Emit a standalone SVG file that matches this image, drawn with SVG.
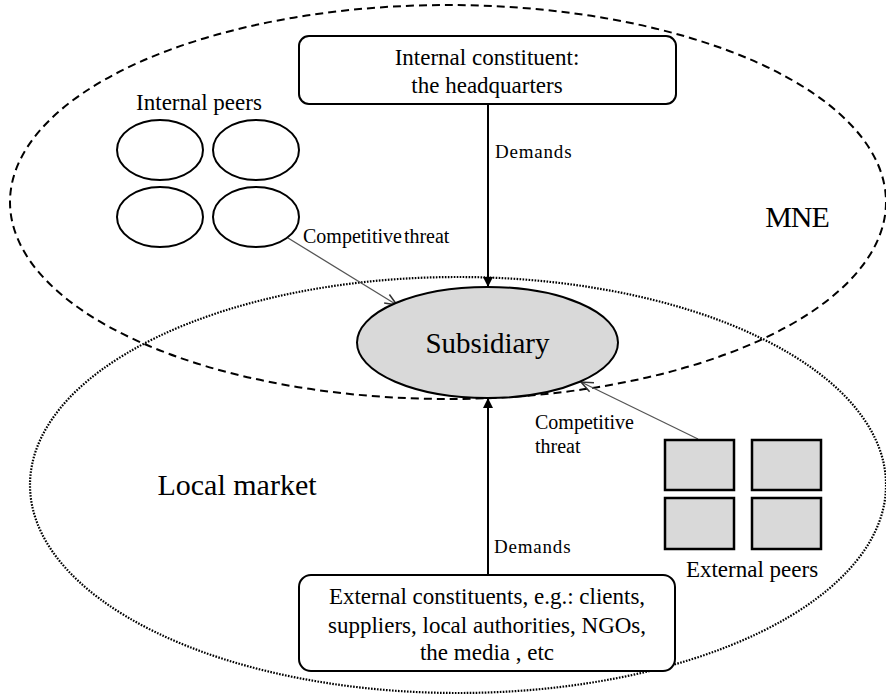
<svg xmlns="http://www.w3.org/2000/svg" width="886" height="694" viewBox="0 0 886 694">
<style>
text{font-family:"Liberation Serif","Times New Roman",serif;fill:#000}
.box{fill:#fff;stroke:#000;stroke-width:2}
.peer{fill:#fff;stroke:#000;stroke-width:2}
.ext{fill:#d9d9d9;stroke:#000;stroke-width:2.5}
.dem{stroke:#000;stroke-width:2;fill:none}
.thr{stroke:#555;stroke-width:1.3;fill:none}
.lbl{font-size:19px;letter-spacing:0.8px}
.thl{font-size:20px}
.big{font-size:23px}
</style>
<defs>
<marker id="fa" viewBox="0 0 10 10" refX="10" refY="5" markerWidth="10" markerHeight="10" orient="auto" markerUnits="userSpaceOnUse">
<path d="M0,0 L10,5 L0,10 z" fill="#000"/>
</marker>
<marker id="oa" viewBox="0 0 14 14" refX="13" refY="7" markerWidth="14" markerHeight="14" orient="auto" markerUnits="userSpaceOnUse">
<path d="M1,2 L13,7 L1,12" fill="none" stroke="#333" stroke-width="1.5"/>
</marker>
</defs>
<rect width="886" height="694" fill="#fff"/>
<g id="mne">
<ellipse cx="448" cy="202" rx="438" ry="197" fill="none" stroke="#000" stroke-width="2" stroke-dasharray="8,5"/>
<text x="797" y="227" font-size="30" text-anchor="middle" letter-spacing="-1">MNE</text>
</g>
<g id="local-market">
<ellipse cx="458" cy="485" rx="428" ry="208" fill="none" stroke="#000" stroke-width="2.2" stroke-dasharray="1.6,1.4"/>
<text x="237" y="495" font-size="30" text-anchor="middle">Local market</text>
</g>
<g id="connectors">
<line class="dem" x1="488" y1="104" x2="488" y2="287" marker-end="url(#fa)"/>
<text class="lbl" x="495" y="158">Demands</text>
<line class="dem" x1="488" y1="575" x2="488" y2="398" marker-end="url(#fa)"/>
<text class="lbl" x="494" y="553">Demands</text>
<line class="thr" x1="288" y1="238" x2="397" y2="305" marker-end="url(#oa)"/>
<text class="thl" x="303" y="243" word-spacing="-3">Competitive threat</text>
<line class="thr" x1="698" y1="439" x2="581" y2="382" marker-end="url(#oa)"/>
<text class="thl" x="535" y="429">Competitive</text>
<text class="thl" x="535" y="453">threat</text>
</g>
<g id="headquarters">
<rect class="box" x="299" y="36" width="377" height="68" rx="10"/>
<text class="big" x="487" y="65" text-anchor="middle">Internal constituent:</text>
<text class="big" x="487" y="93" text-anchor="middle">the headquarters</text>
</g>
<g id="internal-peers">
<text class="big" x="199" y="110" text-anchor="middle">Internal peers</text>
<ellipse class="peer" cx="160" cy="150" rx="43" ry="30"/>
<ellipse class="peer" cx="256" cy="150" rx="43" ry="30"/>
<ellipse class="peer" cx="160" cy="217" rx="43" ry="30"/>
<ellipse class="peer" cx="256" cy="217" rx="43" ry="30"/>
</g>
<g id="subsidiary">
<ellipse cx="487.5" cy="342.5" rx="130.5" ry="55.5" fill="#d9d9d9" stroke="#000" stroke-width="2"/>
<text x="487.5" y="353" font-size="29" text-anchor="middle">Subsidiary</text>
</g>
<g id="external-peers">
<rect class="ext" x="665" y="440" width="69" height="50"/>
<rect class="ext" x="752" y="440" width="69" height="50"/>
<rect class="ext" x="665" y="498" width="69" height="51"/>
<rect class="ext" x="752" y="498" width="69" height="51"/>
<text class="big" x="752" y="577" text-anchor="middle">External peers</text>
</g>
<g id="external-constituents">
<rect class="box" x="299" y="575" width="376" height="96" rx="12"/>
<text class="big" x="487" y="604" text-anchor="middle">External constituents, e.g.: clients,</text>
<text class="big" x="487" y="633" text-anchor="middle">suppliers, local authorities, NGOs,</text>
<text class="big" x="487" y="660" text-anchor="middle">the media , etc</text>
</g>
</svg>
